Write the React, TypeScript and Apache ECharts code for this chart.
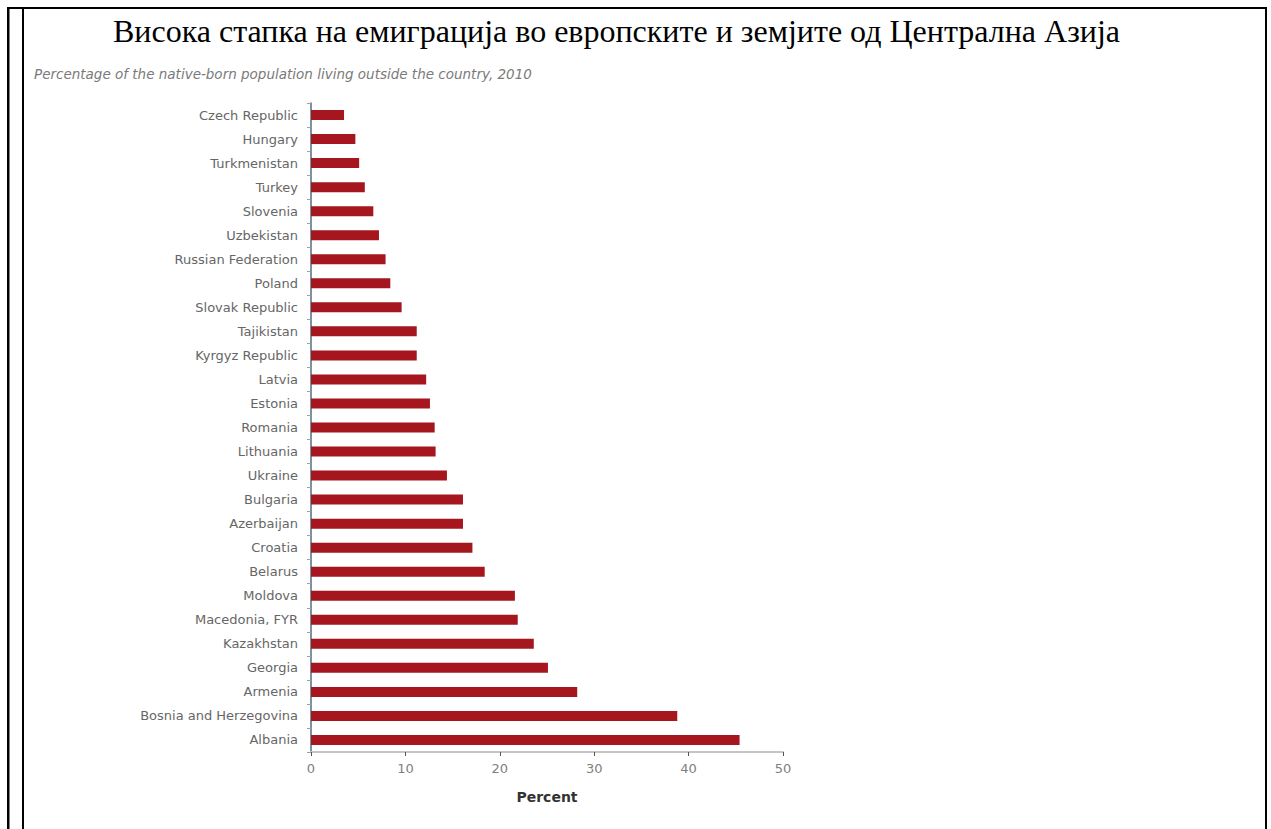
import React, { useEffect, useRef } from "react";
import * as echarts from "echarts";

const TITLE = "Висока стапка на емиграција во европските и земјите од Централна Азија";
const SUBTITLE = "Percentage of the native-born population living outside the country, 2010";
const AXIS_NAME = "Percent";

const countries = [
  "Czech Republic",
  "Hungary",
  "Turkmenistan",
  "Turkey",
  "Slovenia",
  "Uzbekistan",
  "Russian Federation",
  "Poland",
  "Slovak Republic",
  "Tajikistan",
  "Kyrgyz Republic",
  "Latvia",
  "Estonia",
  "Romania",
  "Lithuania",
  "Ukraine",
  "Bulgaria",
  "Azerbaijan",
  "Croatia",
  "Belarus",
  "Moldova",
  "Macedonia, FYR",
  "Kazakhstan",
  "Georgia",
  "Armenia",
  "Bosnia and Herzegovina",
  "Albania",
];

const emigrationPct = [
  3.5, 4.7, 5.1, 5.7, 6.6, 7.2, 7.9, 8.4, 9.6, 11.2, 11.2, 12.2, 12.6, 13.1,
  13.2, 14.4, 16.1, 16.1, 17.1, 18.4, 21.6, 21.9, 23.6, 25.1, 28.2, 38.8, 45.4,
];

const xTicks = { min: 0, max: 50, interval: 10 };

export default function App() {
  const ref = useRef<HTMLDivElement>(null);

  useEffect(() => {
    if (!ref.current) return;
    const chart = echarts.init(ref.current, undefined, { renderer: "svg" });
    chart.setOption({
      animation: false,
      backgroundColor: "#ffffff",
      title: [
        {
          text: TITLE,
          left: 113,
          top: 15,
          padding: 0,
          textStyle: {
            fontFamily: "Liberation Serif",
            fontSize: 32,
            fontWeight: "normal",
            color: "#000000",
          },
        },
        {
          text: SUBTITLE,
          left: 34,
          top: 67,
          padding: 0,
          textStyle: {
            fontFamily: "DejaVu Sans",
            fontSize: 13.5,
            fontStyle: "italic",
            fontWeight: "normal",
            color: "#7a7a7a",
          },
        },
      ],
      grid: {
        left: 311,
        right: 488,
        top: 103,
        bottom: 77,
        containLabel: false,
        outerBoundsMode: "none",
      },
      xAxis: {
        type: "value",
        min: xTicks.min,
        max: xTicks.max,
        interval: xTicks.interval,
        splitLine: { show: false },
        axisLine: { show: true, lineStyle: { color: "#c4c4c4", width: 2 } },
        axisTick: { show: true, length: 4, lineStyle: { color: "#555555" } },
        axisLabel: {
          color: "#808080",
          fontFamily: "DejaVu Sans",
          fontSize: 13,
          margin: 10,
        },
        name: AXIS_NAME,
        nameLocation: "middle",
        nameGap: 38,
        nameTextStyle: {
          color: "#333333",
          fontFamily: "DejaVu Sans",
          fontSize: 14,
          fontWeight: "bold",
        },
      },
      yAxis: {
        type: "category",
        inverse: true,
        data: countries,
        axisLine: { show: true, lineStyle: { color: "#4a7280", width: 1.5 } },
        axisTick: { show: true, length: 4, lineStyle: { color: "#a0a0a0" } },
        axisLabel: {
          color: "#666666",
          fontFamily: "DejaVu Sans",
          fontSize: 13,
          margin: 13,
        },
      },
      series: [
        {
          type: "bar",
          data: emigrationPct,
          barWidth: 10,
          itemStyle: { color: "#a5161f" },
        },
      ],
      graphic: [
        { type: "rect", shape: { x: 7, y: 7, width: 1260, height: 2 }, style: { fill: "#000" } },
        { type: "rect", shape: { x: 7, y: 7, width: 2.5, height: 830 }, style: { fill: "#000" } },
        { type: "rect", shape: { x: 22, y: 7, width: 2, height: 830 }, style: { fill: "#000" } },
        { type: "rect", shape: { x: 1265, y: 7, width: 2, height: 830 }, style: { fill: "#000" } },
      ],
    });
    return () => chart.dispose();
  }, []);

  return (
    <div
      ref={ref}
      style={{ position: "fixed", left: 0, top: 0, width: 1271, height: 829 }}
    />
  );
}
